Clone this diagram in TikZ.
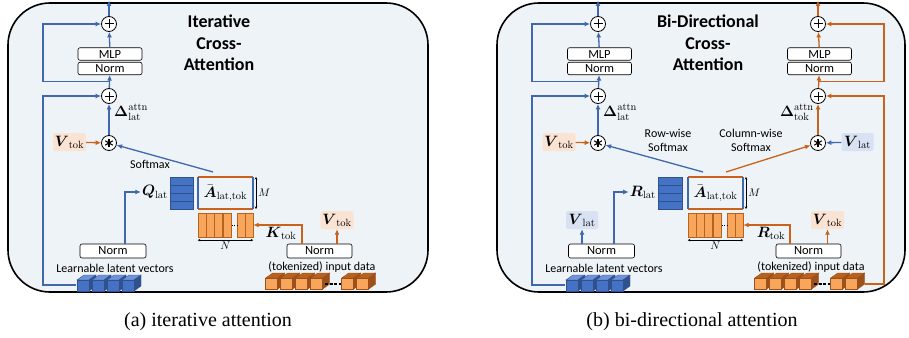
\documentclass[tikz,border=0pt]{standalone}
\usepackage{fix-cm}
\usepackage{amsmath}
\usepackage[no-math]{fontspec}
\setmainfont{Carlito}
\newfontfamily\capfont{Liberation Serif}
\usetikzlibrary{arrows.meta, calc, positioning}

\definecolor{panelbg}{HTML}{EEF3F7}
\definecolor{lineblue}{HTML}{3F68B0}
\definecolor{lineorange}{HTML}{C9631C}
\definecolor{vecblue}{HTML}{4472C4}
\definecolor{vecbluedark}{HTML}{2F528F}
\definecolor{vecbluelight}{HTML}{6F93D6}
\definecolor{tokorange}{HTML}{F8A65C}
\definecolor{tokdark}{HTML}{9E501A}
\definecolor{tokside}{HTML}{B8621F}
\definecolor{vtokbg}{HTML}{FBE3D3}
\definecolor{vlatbg}{HTML}{D9E2F3}

\tikzset{
	% frame of each variant
	panel/.style={draw=black, line width=1.6pt, fill=panelbg, rounded corners=42pt},
	titletext/.style={align=center, font=\bfseries\fontsize{18}{21.5}\selectfont},
	normbox/.style={draw=black, line width=0.6pt, fill=white, rounded corners=2pt,
		minimum width=64pt, minimum height=12.5pt, inner sep=0pt, font=\fontsize{12.5}{12.5}\selectfont},
	smalltext/.style={inner sep=0pt, align=center, font=\fontsize{12}{14}\selectfont},
	mathlbl/.style={inner sep=1pt, font=\fontsize{15}{15}\selectfont},
	dimlbl/.style={inner sep=2pt, font=\fontsize{11}{11}\selectfont},
	vtok/.style={mathlbl, fill=vtokbg, rounded corners=2pt, minimum width=33pt, minimum height=18pt},
	vlat/.style={mathlbl, fill=vlatbg, rounded corners=2pt, minimum width=32pt, minimum height=18pt},
	opnode/.style={circle, draw=black, line width=0.8pt, fill=white, minimum size=15pt, inner sep=0pt},
	plusop/.style={opnode, path picture={
			\draw[line width=1pt] ($(path picture bounding box.center)+(-4.5,0)$) -- ($(path picture bounding box.center)+(4.5,0)$);
			\draw[line width=1pt] ($(path picture bounding box.center)+(0,-4.5)$) -- ($(path picture bounding box.center)+(0,4.5)$);}},
	starop/.style={opnode, path picture={
			\foreach \a in {90,30,150}
			\draw[line width=1.1pt] ($(path picture bounding box.center)+(\a:4.3)$) -- ($(path picture bounding box.center)+(\a+180:4.3)$);}},
	blueline/.style={draw=lineblue, line width=1.3pt, -{Latex[length=5.5pt,width=5pt]}},
	orangeline/.style={draw=lineorange, line width=1.3pt, -{Latex[length=5.5pt,width=5pt]}},
	dimline/.style={draw=black, line width=0.5pt, {Stealth[length=2.5pt,width=2.5pt]}-{Stealth[length=2.5pt,width=2.5pt]}},
	rowedge/.style={draw=lineorange, line width=1.5pt},
	coledge/.style={draw=lineblue, line width=1.5pt},
	stackbar/.style={draw=vecbluedark, fill=vecblue, line width=0.6pt},
	colbar/.style={draw=tokside, fill=tokorange, line width=0.6pt},
	% little cubes
	pics/latcube/.style={code={
			\filldraw[draw=vecbluedark, fill=vecbluelight, line width=.4pt] (0,0) -- (7,-5) -- (19,-5) -- (12,0) -- cycle;
			\filldraw[draw=vecbluedark, fill=vecbluedark, line width=.4pt] (12,0) -- (19,-5) -- (19,6) -- (12,11) -- cycle;
			\filldraw[draw=vecbluedark, fill=vecblue, line width=.5pt] (0,0) rectangle (12,11);}},
	pics/tokcube/.style={code={
			\filldraw[draw=tokdark, fill=tokside, line width=.4pt] (0,0) -- (7,-5) -- (19,-5) -- (12,0) -- cycle;
			\filldraw[draw=tokdark, fill=tokdark, line width=.4pt] (12,0) -- (19,-5) -- (19,6) -- (12,11) -- cycle;
			\filldraw[draw=tokdark, fill=tokorange, line width=.5pt] (0,0) rectangle (12,11);}}
}

\begin{document}
\begin{tikzpicture}[x=1pt, y=-1pt]
	\useasboundingbox (0,0) rectangle (909,337);
	
	% frames
	\draw[panel] (8,3) rectangle (428,292);
	\draw[panel] (497,3) rectangle (905,292);
	
	% ---------------- (a) iterative ----------------
	\node[titletext] (titlea) at (219,43) {Iterative\\Cross-\\Attention};
	
	% latent trunk
	\node[plusop] (pluta) at (109,24) {};
	\node[normbox] (mlpa) at (110,54) {MLP};
	\node[normbox] (nrma) at (110,68.5) {Norm};
	\node[plusop] (plusa) at (109,96) {};
	\node[starop] (stara) at (109,143) {};
	\node[vtok] (vtoka) at (69.5,142) {$\boldsymbol{V}_{\mathrm{tok}}$};
	\node[mathlbl, anchor=west] (dlta) at (113,112) {$\boldsymbol{\Delta}^{\mathrm{attn}}_{\mathrm{lat}}$};
	\coordinate (topa) at (109,0.5);
	\coordinate (mida) at ($(plusa.north)!.5!(nrma.south)$);
	\coordinate (resa) at (43,60);
	
	\draw[blueline] (pluta) -- (topa);
	\draw[blueline] (mlpa) -- (pluta);
	\draw[blueline] (plusa) -- (nrma);
	\draw[blueline] (stara) -- (plusa);
	\draw[orangeline] (vtoka) -- (stara);
	\draw[blueline] (mida) -| (resa) |- (pluta.west);
	
	% attention matrix
	\foreach \i in {0,...,3}
	\draw[stackbar] (170,{177+8*\i}) rectangle +(23,8);
	\node[mathlbl, anchor=east] (qlat) at (169,192) {$\boldsymbol{Q}_{\mathrm{lat}}$};
	\draw[rowedge] (198,177) -- (253,177);
	\draw[rowedge] (198,209) -- (253,209);
	\draw[coledge] (198,177) -- (198,209);
	\draw[coledge] (253,177) -- (253,209);
	\node[mathlbl, inner sep=0pt] (abara) at (225.5,193) {$\bar{\boldsymbol{A}}_{\mathrm{lat,tok}}$};
	\draw[dimline] (256,177) -- (256,209)
	node [midway, right, dimlbl] {$M$};
	
	\node[minimum width=55pt, minimum height=24pt, inner sep=0pt] (colsa) at (225.5,225) {};
	\foreach \x in {198,206.3,214.6,222.9,237,245.3}
	\draw[colbar] (\x,213) rectangle +(8.1,24);
	\draw[dotted, line width=.6pt] (231.5,225) -- (237,225);
	\draw[dimline] ([yshift=-3pt]colsa.south west) -- ([yshift=-3pt]colsa.south east)
	node [midway, below, dimlbl] {$N$};
	
	\coordinate (smxa) at (213,172);
	\draw[blueline] (smxa) -- (stara);
	\node[smalltext] (softa) at (150,164) {Softmax};
	
	% latent input
	\node[normbox, minimum width=66pt, minimum height=14pt] (nrmla) at (113,251) {Norm};
	\draw[blueline] ([xshift=12pt]nrmla.north) |- (qlat.west);
	\node[smalltext] (lrna) at (115,268) {Learnable latent vectors};
	\foreach \i in {0,...,3}
	\pic at ({77+15*\i},280) {latcube};
	\coordinate (lata) at (76,285);
	\coordinate (resa2) at (43,200);
	\draw[blueline] (lata) -| (resa2) |- (plusa.west);
	
	% token input
	\node[normbox, minimum width=65pt, minimum height=14pt] (nrmra) at (319.5,251) {Norm};
	\node[vtok] (vtokra) at (337,220) {$\boldsymbol{V}_{\mathrm{tok}}$};
	\draw[orangeline] ([xshift=-17.5pt]nrmra.north) |- (colsa.east);
	\node[mathlbl] (ktok) at (281,233) {$\boldsymbol{K}_{\mathrm{tok}}$};
	\draw[orangeline] (nrmra.north -| vtokra.south) -- (vtokra.south);
	\node[smalltext] (inpa) at (322,267) {(tokenized) input data};
	\foreach \x in {265.7,280.7,295.7,310.7,341.7,356.7}
	\pic at (\x,278) {tokcube};
	\draw[line width=2.5pt, dash pattern=on 3pt off 1.5pt] (325,284) -- (341,284);
	
	% ---------------- (b) bi-directional ----------------
	\node[titletext] (titleb) at (708,43) {Bi-Directional\\Cross-\\Attention};
	
	% latent trunk
	\node[plusop] (plutlb) at (598,24) {};
	\node[normbox] (mlplb) at (599.5,54) {MLP};
	\node[normbox] (nrmlb) at (599.5,68.5) {Norm};
	\node[plusop] (pluslb) at (598,96) {};
	\node[starop] (starlb) at (598,143) {};
	\node[vtok] (vtoklb) at (559,142) {$\boldsymbol{V}_{\mathrm{tok}}$};
	\node[mathlbl, anchor=west] (dltlb) at (602,112) {$\boldsymbol{\Delta}^{\mathrm{attn}}_{\mathrm{lat}}$};
	\coordinate (toplb) at (598,0.5);
	\coordinate (midlb) at ($(pluslb.north)!.5!(nrmlb.south)$);
	\coordinate (reslb) at (532,60);
	
	\draw[blueline] (plutlb) -- (toplb);
	\draw[blueline] (mlplb) -- (plutlb);
	\draw[blueline] (pluslb) -- (nrmlb);
	\draw[blueline] (starlb) -- (pluslb);
	\draw[orangeline] (vtoklb) -- (starlb);
	\draw[blueline] (midlb) -| (reslb) |- (plutlb.west);
	
	% token trunk
	\node[plusop] (plutrb) at (818,24) {};
	\node[normbox] (mlprb) at (819.5,54) {MLP};
	\node[normbox] (nrmrb) at (819.5,68.5) {Norm};
	\node[plusop] (plusrb) at (818,96) {};
	\node[starop] (starrb) at (818,143) {};
	\node[vlat] (vlatrb) at (857.5,142) {$\boldsymbol{V}_{\mathrm{lat}}$};
	\node[mathlbl, anchor=east] (dltrb) at (815,112) {$\boldsymbol{\Delta}^{\mathrm{attn}}_{\mathrm{tok}}$};
	\coordinate (toprb) at (818,0.5);
	\coordinate (midrb) at ($(plusrb.north)!.5!(nrmrb.south)$);
	\coordinate (resrb) at (884,60);
	
	\draw[orangeline] (plutrb) -- (toprb);
	\draw[orangeline] (mlprb) -- (plutrb);
	\draw[orangeline] (plusrb) -- (nrmrb);
	\draw[orangeline] (starrb) -- (plusrb);
	\draw[blueline] (vlatrb) -- (starrb);
	\draw[orangeline] (midrb) -| (resrb) |- (plutrb.east);
	
	% attention matrix
	\foreach \i in {0,...,3}
	\draw[stackbar] (658,{177+8*\i}) rectangle +(24,8);
	\node[mathlbl, anchor=east] (rlat) at (657,192) {$\boldsymbol{R}_{\mathrm{lat}}$};
	\draw[rowedge] (688,177) -- (743,177);
	\draw[rowedge] (688,209) -- (743,209);
	\draw[coledge] (688,177) -- (688,209);
	\draw[coledge] (743,177) -- (743,209);
	\node[mathlbl, inner sep=0pt] (abarb) at (715.5,193) {$\bar{\boldsymbol{A}}_{\mathrm{lat,tok}}$};
	\draw[dimline] (746,177) -- (746,209)
	node [midway, right, dimlbl] {$M$};
	
	\node[minimum width=55pt, minimum height=24pt, inner sep=0pt] (colsb) at (715.5,225) {};
	\foreach \x in {688,696.3,704.6,712.9,727,735.3}
	\draw[colbar] (\x,213) rectangle +(8.1,24);
	\draw[dotted, line width=.6pt] (721.5,225) -- (727,225);
	\draw[dimline] ([yshift=-3pt]colsb.south west) -- ([yshift=-3pt]colsb.south east)
	node [midway, below, dimlbl] {$N$};
	
	\coordinate (smxlb) at (703,172);
	\coordinate (smxrb) at (726,172);
	\draw[blueline] (smxlb) -- (starlb);
	\draw[orangeline] (smxrb) -- (starrb);
	\node[smalltext] (rowsm) at (668,140) {Row-wise\\Softmax};
	\node[smalltext] (colsm) at (751,140) {Column-wise\\Softmax};
	
	% latent input
	\node[normbox, minimum width=66pt, minimum height=14pt] (nrmllb) at (601.5,251) {Norm};
	\node[vlat] (vlatlb) at (582,220) {$\boldsymbol{V}_{\mathrm{lat}}$};
	\draw[blueline] (nrmllb.north -| vlatlb.south) -- (vlatlb.south);
	\draw[blueline] ([xshift=12.5pt]nrmllb.north) |- (rlat.west);
	\node[smalltext] (lrnb) at (604,268) {Learnable latent vectors};
	\foreach \i in {0,...,3}
	\pic at ({566+15*\i},280) {latcube};
	\coordinate (latb) at (565,285);
	\coordinate (reslb2) at (532,200);
	\draw[blueline] (latb) -| (reslb2) |- (pluslb.west);
	
	% token input
	\node[normbox, minimum width=65pt, minimum height=14pt] (nrmrrb) at (808.5,251) {Norm};
	\node[vtok] (vtokrb) at (827.5,220) {$\boldsymbol{V}_{\mathrm{tok}}$};
	\draw[orangeline] ([xshift=-18.5pt]nrmrrb.north) |- (colsb.east);
	\node[mathlbl] (rtok) at (771,233) {$\boldsymbol{R}_{\mathrm{tok}}$};
	\draw[orangeline] (nrmrrb.north -| vtokrb.south) -- (vtokrb.south);
	\node[smalltext] (inpb) at (811,267) {(tokenized) input data};
	\foreach \x in {754.7,769.7,784.7,799.7,830.7,845.7}
	\pic at (\x,278) {tokcube};
	\draw[line width=2.5pt, dash pattern=on 3pt off 1.5pt] (814,284) -- (830,284);
	\coordinate (tokb) at (865,284);
	\coordinate (resrb2) at (884,200);
	\draw[orangeline] (tokb) -| (resrb2) |- (plusrb.east);
	
	% captions
	\node[font=\capfont\fontsize{20}{20}\selectfont] (capa) at (208,322) {(a) iterative attention};
	\node[font=\capfont\fontsize{20}{20}\selectfont] (capb) at (692,322) {(b) bi-directional attention};
\end{tikzpicture}
\end{document}
